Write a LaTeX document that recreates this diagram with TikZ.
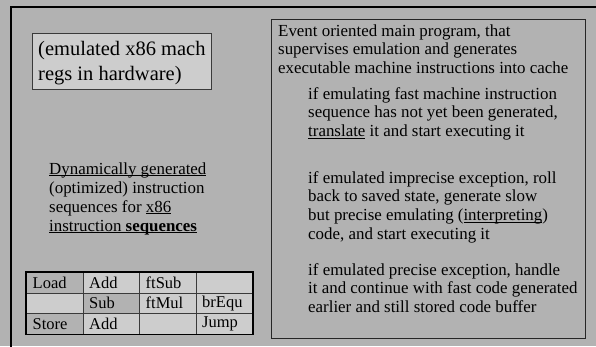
\documentclass[tikz,border=0pt]{standalone}
\usepackage{fontspec}
\setmainfont{Liberation Serif}
\usetikzlibrary{positioning}

\definecolor{slidegray}{HTML}{B2B2B2}
\definecolor{boxgray}{HTML}{CDCDCD}
\definecolor{linegray}{HTML}{3A3A3A}

\newcommand{\textlines}[1]{\parbox[t]{12cm}{\raggedright #1}}
\newcommand{\undl}[1]{\leavevmode\setbox0\hbox{#1}\rlap{\rule[-2.2pt]{\wd0}{0.8pt}}\box0\relax}

\begin{document}
\begin{tikzpicture}[x=1pt,y=-1pt,
        txt/.style={inner sep=0pt,anchor=base west,
          font=\fontsize{16.9}{18.7}\selectfont},
        cell/.style={draw=linegray,line width=0.9pt,inner sep=0pt,anchor=north west,
          minimum height=20.5pt,minimum width=56.5pt},
        celltxt/.style={inner sep=0pt,anchor=west,font=\fontsize{16.5}{18}\selectfont}]

  \useasboundingbox (0,0) rectangle (596,346);
  \clip (0,0) rectangle (596,346);
  \fill[slidegray] (0,0) rectangle (596,346);
  \draw[line width=1.6pt] (11,7) rectangle (640,380);

  % hardware registers
  \node[draw=linegray,line width=0.9pt,fill=boxgray,inner sep=0pt,anchor=north west,
        minimum width=179pt,minimum height=56pt] (regs) at (32,33) {};
  \node[inner sep=0pt,anchor=base west,
        font=\fontsize{20.5}{25}\selectfont] (regstxt) at (38,55)
        {\textlines{(emulated x86 mach\\regs in hardware)}};

  % generated code
  \node[txt,font=\fontsize{16.9}{19}\selectfont] (gen) at (49,174)
        {\textlines{\undl{Dynamically generated}\\(optimized) instruction\\
         sequences for \undl{x86}\\\undl{instruction \textbf{sequences}}}};

  \foreach \txt/\col/\row/\shade in {Load/0/0/slidegray, Add/1/0/boxgray,
      ftSub/2/0/boxgray, /3/0/boxgray,
      /0/1/boxgray, Sub/1/1/slidegray, ftMul/2/1/boxgray, brEqu/3/1/boxgray,
      Store/0/2/slidegray, Add/1/2/boxgray, /2/2/boxgray, Jump/3/2/boxgray}
  {
    \node[cell,fill=\shade] (c\row\col) at ({26+56.5*\col},{272+20.5*\row}) {};
    \node[celltxt] at ([xshift=6.5pt]c\row\col.west) {\txt};
  }
  \draw[line width=1.8pt] (c00.north west) rectangle (c23.south east);

  % main program
  \node[draw=black!85,line width=1.3pt,inner sep=0pt,anchor=north west,
        minimum width=314pt,minimum height=319pt] (main) at (271,19) {};
  \node[txt] (event) at (278,36)
        {\textlines{Event oriented main program, that\\supervises emulation and generates\\
         executable machine instructions into cache}};
  \node[txt] (fast) at (308,99)
        {\textlines{if emulating fast machine instruction\\sequence has not yet been generated,\\
         \undl{translate} it and start executing it}};
  \node[txt] (slow) at (308,183)
        {\textlines{if emulated imprecise exception, roll\\back to saved state, generate slow\\
         but precise emulating (\undl{interpreting})\\code, and start executing it}};
  \node[txt] (precise) at (308,275)
        {\textlines{if emulated precise exception, handle\\it and continue with fast code generated\\
         earlier and still stored code buffer}};

\end{tikzpicture}
\end{document}
